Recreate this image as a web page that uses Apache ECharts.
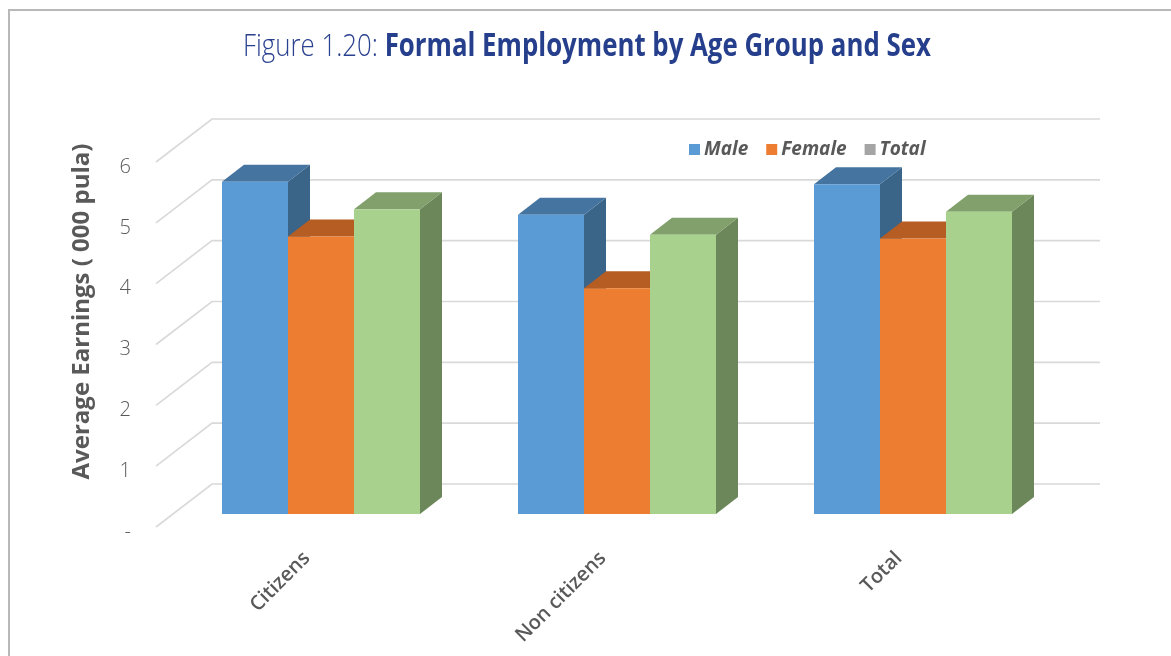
<!DOCTYPE html>
<html><head><meta charset="utf-8">
<style>html,body{margin:0;padding:0;background:#fff}#c{width:1171px;height:656px}</style>
<script src="https://cdn.jsdelivr.net/npm/echarts@6/dist/echarts.min.js"></script>
</head><body><div id="c"></div>
<script>
const categories = ['Citizens', 'Non citizens', 'Total'];
const male = [5.46, 4.92, 5.42];
const female = [4.56, 3.71, 4.53];
const total = [5.01, 4.59, 4.97];
const yTicks = [0, 1, 2, 3, 4, 5, 6];
const yTickLabels = ['-', '1', '2', '3', '4', '5', '6'];

const FLOOR = [56, -43];
const BAR_NEAR = [17, -13];
const BAR_DEPTH = [22, -17];
const BAR_W = 66;
const faces = [
  {front: '#5b9bd5', top: '#44749f', side: '#3a6488'},
  {front: '#ed7d31', top: '#b55d22', side: '#a8551f'},
  {front: '#a9d18e', top: '#81a06c', side: '#6c8759'}
];
const pts = a => ({shape: {points: a}});
function barRenderer(idx) {
  return function (params, api) {
    const base = api.coord([api.value(0), 0]);
    const head = api.coord([api.value(0), api.value(1)]);
    const x0 = base[0] + BAR_NEAR[0] + (idx - 1.5) * BAR_W;
    const x1 = x0 + BAR_W;
    const yb = base[1] + BAR_NEAR[1];
    const yt = head[1] + BAR_NEAR[1];
    const dx = BAR_DEPTH[0], dy = BAR_DEPTH[1];
    const f = faces[idx];
    return {type: 'group', children: [
      Object.assign({type: 'polygon', style: {fill: f.side}}, pts([[x1, yb], [x1 + dx, yb + dy], [x1 + dx, yt + dy], [x1, yt]])),
      Object.assign({type: 'polygon', style: {fill: f.top}}, pts([[x0, yt], [x0 + dx, yt + dy], [x1 + dx, yt + dy], [x1, yt]])),
      {type: 'rect', shape: {x: x0, y: yt, width: BAR_W, height: yb - yt}, style: {fill: f.front}}
    ]};
  };
}
function wallRenderer(params, api) {
  const p = api.coord([0, api.value(1)]);
  const cs = params.coordSys;
  const y = p[1];
  return {type: 'polyline', shape: {points: [
    [cs.x, y], [cs.x + FLOOR[0], y + FLOOR[1]], [cs.x + cs.width + FLOOR[0], y + FLOOR[1]]
  ]}, style: {fill: null, stroke: '#d9d9d9', lineWidth: 1.6}};
}
const series3d = (name, arr, idx, legendColor) => ({
  type: 'custom', name, z: 3 + idx, clip: false,
  itemStyle: {color: legendColor},
  renderItem: barRenderer(idx),
  encode: {x: 0, y: 1},
  data: arr.map((v, i) => [i, v])
});

const chart = echarts.init(document.getElementById('c'), null, {renderer: 'canvas'});
chart.setOption({
  animation: false,
  backgroundColor: '#fff',
  legend: {
    left: 689, top: 140, padding: 0, itemWidth: 11, itemHeight: 11, itemGap: 18,
    data: ['Male', 'Female', 'Total'],
    icon: 'rect',
    textStyle: {fontFamily: '"Open Sans"', fontStyle: 'italic', fontWeight: 'bold', fontSize: 19, color: '#595959', padding: [0, 0, 0, -1]}
  },
  grid: {left: 156, right: 127, top: 162, bottom: 129},
  xAxis: {
    type: 'category', data: categories,
    axisLine: {show: false}, axisTick: {show: false}, splitLine: {show: false},
    axisLabel: {rotate: 45, margin: 31, padding: [0, -4, 0, 0], fontFamily: '"Open Sans"', fontWeight: 600, fontSize: 20, color: '#595959', interval: 0}
  },
  yAxis: {
    type: 'value', min: 0, max: 6, interval: 1,
    name: 'Average Earnings ( 000 pula)',
    nameLocation: 'middle', nameGap: 62,
    nameTextStyle: {fontFamily: '"Open Sans"', fontWeight: 'bold', fontSize: 24, color: '#595959', padding: [0, 0, 0, 66]},
    axisLine: {show: false}, axisTick: {show: false}, splitLine: {show: false},
    axisLabel: {
      margin: 25, verticalAlign: 'top', lineHeight: 10, fontFamily: '"Open Sans"', fontWeight: 300, fontSize: 20, color: '#595959',
      formatter: v => yTickLabels[yTicks.indexOf(v)]
    }
  },
  graphic: [
    {type: 'polyline', silent: true, z: 0, shape: {points: [[9, 656], [9, 10], [1171, 10]]},
     style: {fill: null, stroke: '#b8b8b8', lineWidth: 2}},
    {type: 'text', silent: true, z: 10, x: 243, y: 47, scaleX: 0.807,
     style: {
       text: '{a|Figure 1.20: }{b|Formal Employment by Age Group and Sex}',
       verticalAlign: 'middle',
       rich: {
         a: {fontFamily: '"Open Sans"', fontSize: 32, fontWeight: 300, fill: '#2a4190', textFill: '#2a4190'},
         b: {fontFamily: '"Open Sans"', fontSize: 32, fontWeight: 'bold', fill: '#263f8c', textFill: '#263f8c'}
       }
     }}
  ],
  series: [
    {type: 'custom', name: 'walls', z: 1, clip: false, renderItem: wallRenderer, encode: {x: 0, y: 1}, silent: true,
     data: yTicks.map(t => [0, t])},
    series3d('Male', male, 0, '#5b9bd5'),
    series3d('Female', female, 1, '#ed7d31'),
    series3d('Total', total, 2, '#a5a5a5')
  ]
});
</script></body></html>
